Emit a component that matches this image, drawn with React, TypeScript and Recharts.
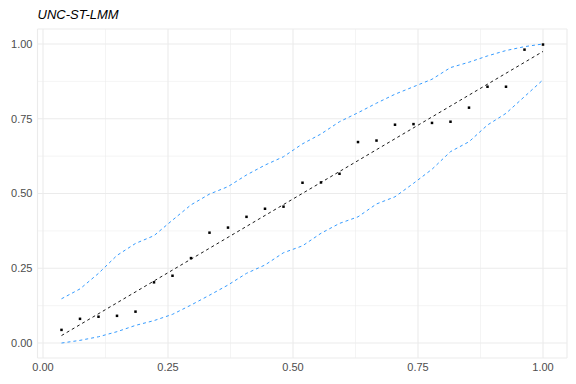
import React from "react";
import {
  CartesianGrid,
  ComposedChart,
  Line,
  Scatter,
  XAxis,
  YAxis,
} from "recharts";

// expected uniform quantiles (x) for the 27 p-values
const expected = [
  0.037, 0.074, 0.111, 0.148, 0.185, 0.222, 0.259, 0.296, 0.333, 0.37, 0.407,
  0.444, 0.481, 0.519, 0.556, 0.593, 0.63, 0.667, 0.704, 0.741, 0.778, 0.815,
  0.852, 0.889, 0.926, 0.963, 1.0,
];
// observed p-values
const observed = [
  0.044, 0.081, 0.088, 0.091, 0.105, 0.203, 0.225, 0.284, 0.369, 0.386, 0.422,
  0.449, 0.456, 0.536, 0.537, 0.566, 0.672, 0.677, 0.73, 0.732, 0.736, 0.74,
  0.787, 0.857, 0.857, 0.981, 0.998,
];
const upper = [
  0.148, 0.181, 0.233, 0.293, 0.333, 0.359, 0.411, 0.462, 0.498, 0.523, 0.562,
  0.595, 0.623, 0.666, 0.699, 0.74, 0.77, 0.802, 0.832, 0.857, 0.882, 0.921,
  0.939, 0.96, 0.978, 0.991, 1.0,
];
const lower = [
  0.0, 0.009, 0.021, 0.038, 0.059, 0.075, 0.096, 0.127, 0.16, 0.194, 0.233,
  0.261, 0.302, 0.325, 0.367, 0.4, 0.422, 0.465, 0.489, 0.534, 0.581, 0.64,
  0.673, 0.729, 0.768, 0.824, 0.88,
];
// reference line ends (first and last point)
const refEnds = [0.025, 0.975];

const majorTicks = [0, 0.25, 0.5, 0.75, 1];
const minorTicks = [0.125, 0.375, 0.625, 0.875];
const tickLabels = ["0.00", "0.25", "0.50", "0.75", "1.00"];

const data = expected.map((x, i) => ({
  x,
  obs: observed[i],
  hi: upper[i],
  lo: lower[i],
  ref: i === 0 ? refEnds[0] : i === expected.length - 1 ? refEnds[1] : null,
}));

const W = 576;
const H = 384;
const tickStyle = {
  fill: "#4d4d4d",
  fontSize: 11,
  fontFamily: "'Liberation Sans', Arial, sans-serif",
};
const fmt = (v: number) => tickLabels[majorTicks.indexOf(v)] ?? "";

const Square = (props: any) => {
  const { cx, cy } = props;
  if (cx == null || cy == null) return null;
  return <rect x={cx - 1.25} y={cy - 1.25} width={2.5} height={2.5} fill="#000" />;
};

export default function App() {
  return (
    <div style={{ position: "absolute", left: 0, top: 0, width: W, height: H, background: "#fff" }}>
      <div
        style={{
          position: "absolute",
          left: 37.5,
          top: 7,
          fontSize: 13,
          lineHeight: "15px",
          fontStyle: "italic",
          fontFamily: "'Liberation Sans', Arial, sans-serif",
          color: "#000",
        }}
      >
        UNC-ST-LMM
      </div>
      <ComposedChart
        width={W}
        height={H}
        data={data}
        margin={{ top: 29, right: 9, bottom: 0, left: 0 }}
      >
        <CartesianGrid
          stroke="#ebebeb"
          strokeWidth={0.55}
          horizontalValues={minorTicks}
          verticalValues={minorTicks}
        />
        <CartesianGrid stroke="#ebebeb" strokeWidth={1.1} />
        <XAxis
          type="number"
          dataKey="x"
          domain={[-0.011, 1.048]}
          allowDataOverflow
          ticks={majorTicks}
          tickFormatter={fmt}
          axisLine={false}
          tickLine={false}
          tickSize={0}
          tickMargin={5}
          height={26}
          tick={tickStyle}
          interval={0}
        />
        <YAxis
          type="number"
          domain={[-0.05, 1.05]}
          allowDataOverflow
          ticks={majorTicks}
          tickFormatter={fmt}
          axisLine={false}
          tickLine={false}
          tickSize={0}
          tickMargin={5}
          width={37.5}
          tick={tickStyle}
          interval={0}
        />
        <Line
          dataKey="hi"
          stroke="#1E90FF"
          strokeWidth={0.9}
          strokeDasharray="3 3"
          dot={false}
          isAnimationActive={false}
        />
        <Line
          dataKey="lo"
          stroke="#1E90FF"
          strokeWidth={0.9}
          strokeDasharray="3 3"
          dot={false}
          isAnimationActive={false}
        />
        <Line
          dataKey="ref"
          stroke="#000"
          strokeWidth={0.9}
          strokeDasharray="3 3"
          dot={false}
          connectNulls
          isAnimationActive={false}
        />
        <Scatter dataKey="obs" fill="#000" shape={Square} isAnimationActive={false} />
      </ComposedChart>
    </div>
  );
}
